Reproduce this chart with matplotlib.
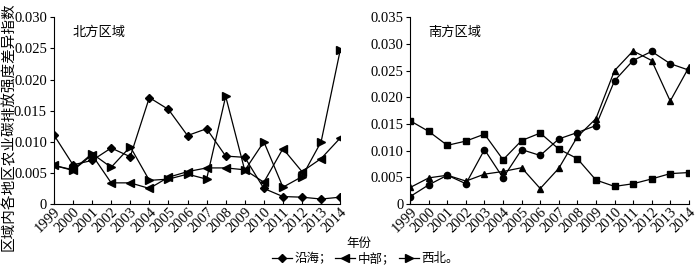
import numpy as np
import matplotlib
matplotlib.use('Agg')
import matplotlib.pyplot as plt
from matplotlib.lines import Line2D
from matplotlib.ticker import FuncFormatter

# du lieu doc tu hinh
years = list(range(1999, 2015))

# bac - 北方区域
coast_n = [0.0111, 0.0063, 0.0070, 0.0090, 0.0076, 0.0171, 0.0152, 0.0110,
           0.0121, 0.0077, 0.0075, 0.0025, 0.0012, 0.0011, 0.0008, 0.0011]
central_n = [0.0062, 0.0054, 0.0079, 0.0034, 0.0034, 0.0025, 0.0043, 0.0052,
             0.0058, 0.0058, 0.0055, 0.0035, 0.0089, 0.0052, 0.0073, 0.0106]
northwest_n = [0.0062, 0.0055, 0.0081, 0.0059, 0.0092, 0.0038, 0.0040, 0.0048,
               0.0040, 0.0173, 0.0054, 0.0100, 0.0027, 0.0044, 0.0100, 0.0247]

# nam - 南方区域
circle_s = [0.0014, 0.0036, 0.0054, 0.0038, 0.0102, 0.0049, 0.0102, 0.0091,
            0.0122, 0.0134, 0.0147, 0.0231, 0.0269, 0.0286, 0.0263, 0.0251]
square_s = [0.0156, 0.0136, 0.0110, 0.0118, 0.0131, 0.0083, 0.0119, 0.0133,
            0.0103, 0.0085, 0.0045, 0.0033, 0.0038, 0.0047, 0.0057, 0.0059]
triangle_s = [0.0031, 0.0049, 0.0054, 0.0043, 0.0056, 0.0061, 0.0068, 0.0029,
              0.0067, 0.0126, 0.0160, 0.0250, 0.0287, 0.0269, 0.0193, 0.0256]

legend_labels = ['沿海；', '中部；', '西北。']
ylabel = '区域内各地区农业碳排放强度差异指数'

fonts = ['Liberation Serif', 'Noto Sans CJK SC', 'DejaVu Sans']
plt.rcParams['font.family'] = fonts
plt.rcParams['font.size'] = 9

fig = plt.figure(figsize=(7, 2.66), dpi=100)
ax1 = fig.add_axes([0.077, 0.233, 0.409, 0.702])
ax2 = fig.add_axes([0.586, 0.233, 0.398, 0.702])

kw = dict(color='black', lw=0.9)
ax1.plot(years, coast_n, marker='D', ms=4.5, **kw)
ax1.plot(years, central_n, marker='<', ms=5.5, **kw)
ax1.plot(years, northwest_n, marker='>', ms=5.5, **kw)

ax2.plot(years, circle_s, marker='o', ms=4.5, **kw)
ax2.plot(years, square_s, marker='s', ms=4, **kw)
ax2.plot(years, triangle_s, marker='^', ms=5, **kw)

fmt = FuncFormatter(lambda v, p: '0' if abs(v) < 1e-9 else '%.3f' % v)
for ax, ymax, title in [(ax1, 0.030, '北方区域'), (ax2, 0.035, '南方区域')]:
    ax.set_xlim(1999, 2014)
    ax.set_ylim(0, ymax)
    ax.set_yticks(np.arange(0, ymax + 1e-9, 0.005))
    ax.yaxis.set_major_formatter(fmt)
    ax.set_xticks(years)
    ax.set_xticklabels([str(y) for y in years], rotation=45, ha='right',
                       va='top', rotation_mode='anchor')
    ax.spines['top'].set_visible(False)
    ax.spines['right'].set_visible(False)
    ax.spines['left'].set_linewidth(0.8)
    ax.spines['bottom'].set_linewidth(0.8)
    ax.tick_params(axis='y', direction='out', length=3, width=0.8, pad=2, labelsize=10.5)
    ax.tick_params(axis='x', direction='in', length=3, width=0.8, pad=1, labelsize=10.5)
    ax.text(0.065, 0.95, title, transform=ax.transAxes, fontsize=9.5,
            va='top', ha='left')

fig.text(0.012, 0.525, ylabel, rotation=90, ha='center', va='center', fontsize=10.5)
fig.text(0.513, 0.083, '年份', ha='center', va='center', fontsize=9)

handles = [Line2D([], [], color='black', lw=0.9, marker='D', ms=4.5),
           Line2D([], [], color='black', lw=0.9, marker='<', ms=5.5),
           Line2D([], [], color='black', lw=0.9, marker='>', ms=5.5)]
fig.legend(handles, legend_labels, loc='center', bbox_to_anchor=(0.522, 0.028),
           ncol=3, frameon=False, fontsize=9, handlelength=1.6,
           handletextpad=0.2, columnspacing=0.3, borderaxespad=0, borderpad=0)

fig.savefig('out.png', dpi=100)
